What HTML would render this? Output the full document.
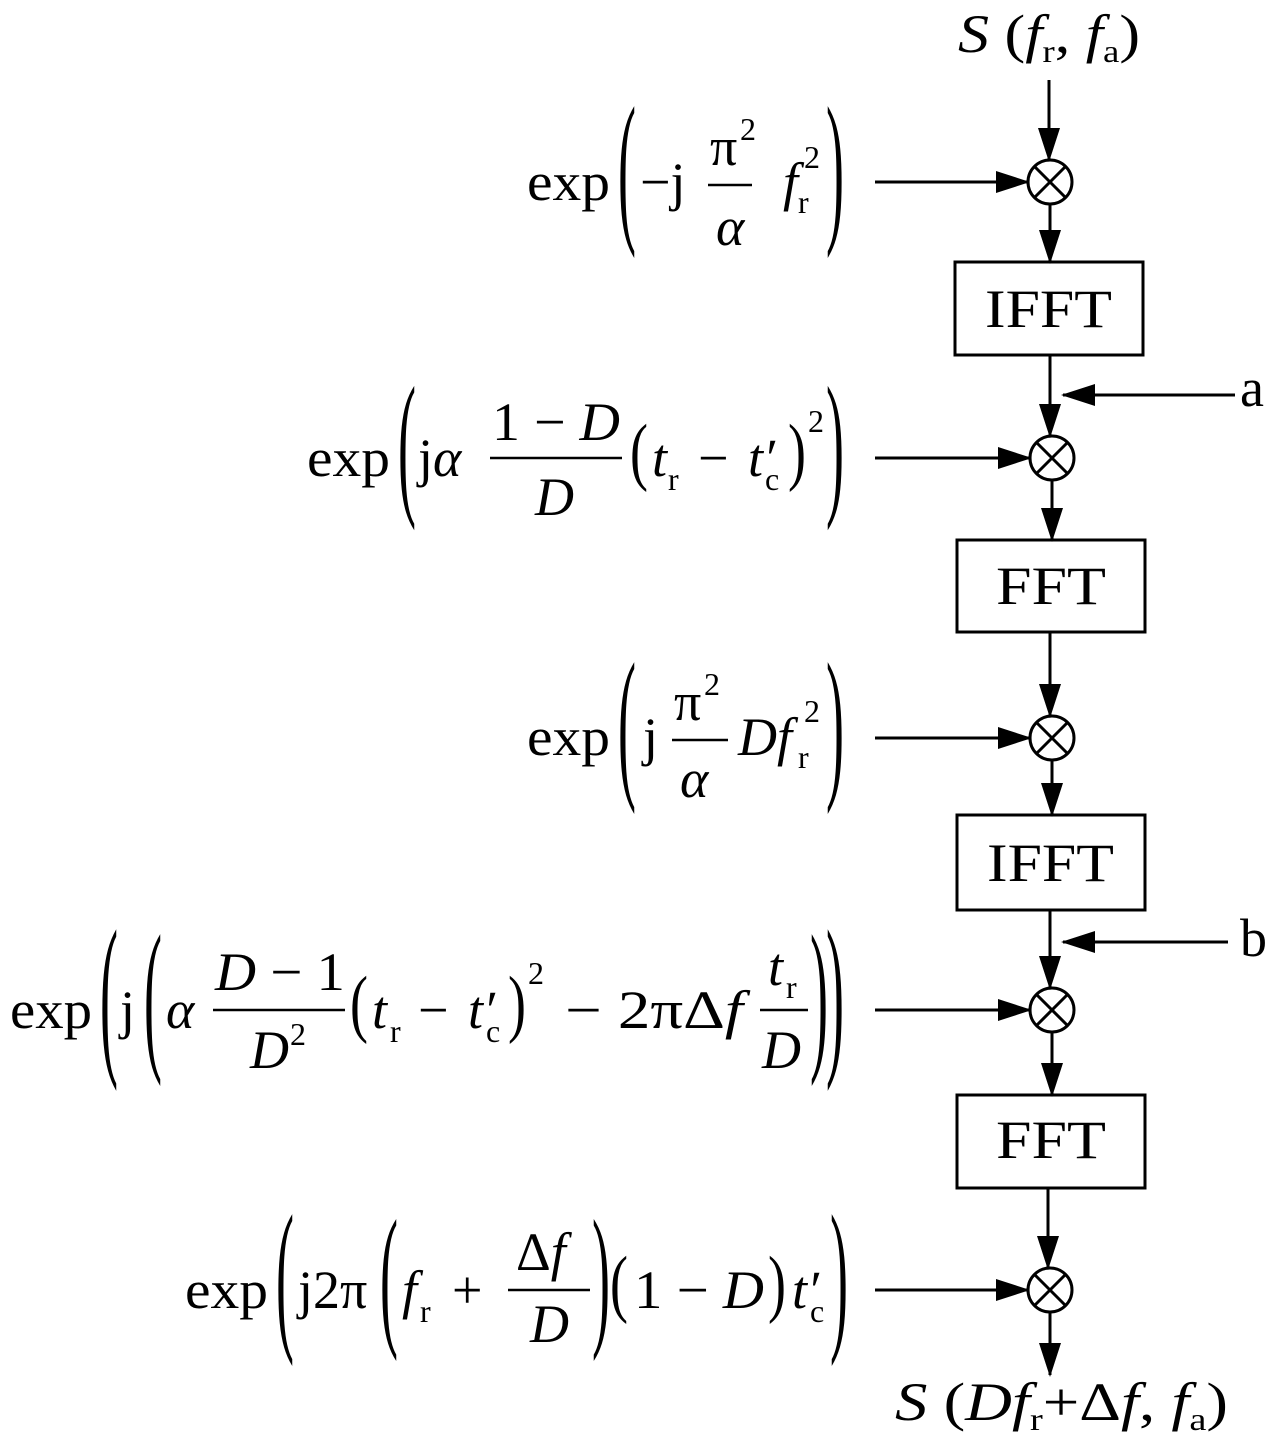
<!DOCTYPE html>
<html><head><meta charset="utf-8"><style>
html,body{margin:0;padding:0;background:#fff;}
svg{display:block;}
text{font-family:"Liberation Serif",serif;font-size:54px;fill:#000;}
.i{font-style:italic;}
.s{font-size:32px;}
</style></head><body>
<svg width="1280" height="1447" viewBox="0 0 1280 1447" xmlns="http://www.w3.org/2000/svg">
<defs>
<marker id="ah" markerWidth="34" markerHeight="22" refX="32" refY="11" orient="auto" markerUnits="userSpaceOnUse">
<path d="M0,0 L34,11 L0,22 Z" fill="#000"/>
</marker>
</defs>
<g stroke="#000" stroke-width="3" fill="none">
<line x1="1049" y1="80" x2="1049" y2="160" marker-end="url(#ah)"/>
<circle cx="1050" cy="182" r="22"/>
<line x1="1050" y1="204" x2="1050" y2="262" marker-end="url(#ah)"/>
<rect x="955" y="262" width="188" height="93"/>
<line x1="1050" y1="355" x2="1050" y2="436" marker-end="url(#ah)"/>
<circle cx="1052" cy="458" r="22"/>
<line x1="1052" y1="480" x2="1052" y2="540" marker-end="url(#ah)"/>
<rect x="957" y="540" width="188" height="92"/>
<line x1="1050" y1="632" x2="1050" y2="716" marker-end="url(#ah)"/>
<circle cx="1052" cy="738" r="22"/>
<line x1="1052" y1="760" x2="1052" y2="815" marker-end="url(#ah)"/>
<rect x="957" y="815" width="188" height="95"/>
<line x1="1050" y1="910" x2="1050" y2="988" marker-end="url(#ah)"/>
<circle cx="1052" cy="1010" r="22"/>
<line x1="1052" y1="1032" x2="1052" y2="1095" marker-end="url(#ah)"/>
<rect x="957" y="1095" width="188" height="93"/>
<line x1="1048" y1="1188" x2="1048" y2="1268" marker-end="url(#ah)"/>
<circle cx="1050" cy="1290" r="22"/>
<line x1="1050" y1="1312" x2="1050" y2="1375" marker-end="url(#ah)"/>
<line x1="875" y1="182" x2="1028" y2="182" marker-end="url(#ah)"/>
<line x1="875" y1="458" x2="1030" y2="458" marker-end="url(#ah)"/>
<line x1="875" y1="738" x2="1030" y2="738" marker-end="url(#ah)"/>
<line x1="875" y1="1010" x2="1030" y2="1010" marker-end="url(#ah)"/>
<line x1="875" y1="1290" x2="1028" y2="1290" marker-end="url(#ah)"/>
<line x1="1235" y1="395" x2="1063" y2="395" marker-end="url(#ah)"/>
<line x1="1228" y1="942" x2="1063" y2="942" marker-end="url(#ah)"/>
<path d="M1035,167 L1065,197 M1065,167 L1035,197"/>
<path d="M1037,443 L1067,473 M1067,443 L1037,473"/>
<path d="M1037,723 L1067,753 M1067,723 L1037,753"/>
<path d="M1037,995 L1067,1025 M1067,995 L1037,1025"/>
<path d="M1035,1275 L1065,1305 M1065,1275 L1035,1305"/>
<line x1="708" y1="185" x2="752" y2="185" stroke-width="2.5"/>
<line x1="490" y1="458" x2="622" y2="458" stroke-width="2.5"/>
<line x1="672" y1="740" x2="728" y2="740" stroke-width="2.5"/>
<line x1="213" y1="1010" x2="345" y2="1010" stroke-width="2.5"/>
<line x1="760" y1="1010" x2="808" y2="1010" stroke-width="2.5"/>
<line x1="508" y1="1290" x2="590" y2="1290" stroke-width="2.5"/>
</g>
<text x="985" y="327" textLength="127" lengthAdjust="spacingAndGlyphs">IFFT</text>
<text x="996" y="604" textLength="110" lengthAdjust="spacingAndGlyphs">FFT</text>
<text x="987" y="881" textLength="127" lengthAdjust="spacingAndGlyphs">IFFT</text>
<text x="996" y="1158" textLength="110" lengthAdjust="spacingAndGlyphs">FFT</text>
<text x="1240" y="406">a</text>
<text x="1240" y="956">b</text>
<text x="958" y="52" textLength="182" lengthAdjust="spacingAndGlyphs"><tspan class="i">S</tspan> (<tspan class="i">f</tspan><tspan class="s" dy="10">r</tspan><tspan dy="-10">, </tspan><tspan class="i">f</tspan><tspan class="s" dy="10">a</tspan><tspan dy="-10">)</tspan></text>
<text x="895" y="1420" textLength="333" lengthAdjust="spacingAndGlyphs"><tspan class="i">S</tspan> (<tspan class="i">Df</tspan><tspan class="s" dy="10">r</tspan><tspan dy="-10">+Δ</tspan><tspan class="i">f</tspan>, <tspan class="i">f</tspan><tspan class="s" dy="10">a</tspan><tspan dy="-10">)</tspan></text>

<!-- Formula 1 -->
<text x="527" y="200" textLength="83" lengthAdjust="spacingAndGlyphs">exp</text>
<text transform="translate(618,182) scale(1,3.1)" y="13">(</text>
<text transform="translate(826,182) scale(1,3.1)" y="13">)</text>
<text x="640" y="200">−j</text>
<text x="710" y="165">π</text><text class="s" x="740" y="140">2</text>
<text class="i" x="716" y="245">α</text>
<text class="i" x="783" y="200">f</text><text class="s" x="804" y="168">2</text><text class="s" x="798" y="213">r</text>

<!-- Formula 2 -->
<text x="307" y="476" textLength="83" lengthAdjust="spacingAndGlyphs">exp</text>
<text transform="translate(398,458) scale(1,2.95)" y="13">(</text>
<text transform="translate(826,458) scale(1,2.95)" y="13">)</text>
<text x="418" y="476">j<tspan class="i">α</tspan></text>
<text x="492" y="440" textLength="128" lengthAdjust="spacingAndGlyphs">1 − <tspan class="i">D</tspan></text>
<text class="i" x="535" y="515">D</text>
<text transform="translate(630,458) scale(1,1.4)" y="13">(</text>
<text class="i" x="652" y="476">t</text><text class="s" x="668" y="490">r</text>
<text x="698" y="476">−</text>
<text class="i" x="748" y="476">t′</text><text class="s" x="765" y="490">c</text>
<text transform="translate(788,458) scale(1,1.4)" y="13">)</text>
<text class="s" x="808" y="432">2</text>

<!-- Formula 3 -->
<text x="527" y="755" textLength="83" lengthAdjust="spacingAndGlyphs">exp</text>
<text transform="translate(618,738) scale(1,3.1)" y="13">(</text>
<text transform="translate(826,738) scale(1,3.1)" y="13">)</text>
<text x="643" y="755">j</text>
<text x="674" y="720">π</text><text class="s" x="704" y="695">2</text>
<text class="i" x="680" y="797">α</text>
<text class="i" x="738" y="755">Df</text><text class="s" x="804" y="722">2</text><text class="s" x="798" y="768">r</text>

<!-- Formula 4 -->
<text x="10" y="1028" textLength="82" lengthAdjust="spacingAndGlyphs">exp</text>
<text transform="translate(100,1010) scale(1,3.3)" y="13">(</text>
<text x="120" y="1028">j</text>
<text transform="translate(144,1010) scale(1,3.1)" y="13">(</text>
<text class="i" x="166" y="1028">α</text>
<text x="215" y="990" textLength="130" lengthAdjust="spacingAndGlyphs"><tspan class="i">D</tspan> − 1</text>
<text class="i" x="250" y="1068">D</text><text class="s" x="290" y="1045">2</text>
<text transform="translate(350,1010) scale(1,1.4)" y="13">(</text>
<text class="i" x="372" y="1028">t</text><text class="s" x="390" y="1042">r</text>
<text x="418" y="1028">−</text>
<text class="i" x="468" y="1028">t′</text><text class="s" x="486" y="1042">c</text>
<text transform="translate(508,1010) scale(1,1.4)" y="13">)</text>
<text class="s" x="528" y="984">2</text>
<text x="565" y="1028" textLength="178" lengthAdjust="spacingAndGlyphs">− 2πΔ<tspan class="i">f</tspan></text>
<text class="i" x="768" y="985">t</text><text class="s" x="786" y="998">r</text>
<text class="i" x="762" y="1068">D</text>
<text transform="translate(810,1010) scale(1,3.1)" y="13">)</text>
<text transform="translate(826,1010) scale(1,3.3)" y="13">)</text>

<!-- Formula 5 -->
<text x="185" y="1308" textLength="83" lengthAdjust="spacingAndGlyphs">exp</text>
<text transform="translate(276,1290) scale(1,3.1)" y="13">(</text>
<text x="298" y="1308">j2π</text>
<text transform="translate(380,1290) scale(1,2.9)" y="13">(</text>
<text class="i" x="402" y="1308">f</text><text class="s" x="420" y="1322">r</text>
<text x="452" y="1308">+</text>
<text x="516" y="1270">Δ<tspan class="i">f</tspan></text>
<text class="i" x="530" y="1342">D</text>
<text transform="translate(592,1290) scale(1,2.9)" y="13">)</text>
<text transform="translate(610,1290) scale(1,1.4)" y="13">(</text>
<text x="634" y="1308" textLength="130" lengthAdjust="spacingAndGlyphs">1 − <tspan class="i">D</tspan></text>
<text transform="translate(768,1290) scale(1,1.4)" y="13">)</text>
<text class="i" x="792" y="1308">t′</text><text class="s" x="810" y="1322">c</text>
<text transform="translate(830,1290) scale(1,3.1)" y="13">)</text>
</svg>
</body></html>
